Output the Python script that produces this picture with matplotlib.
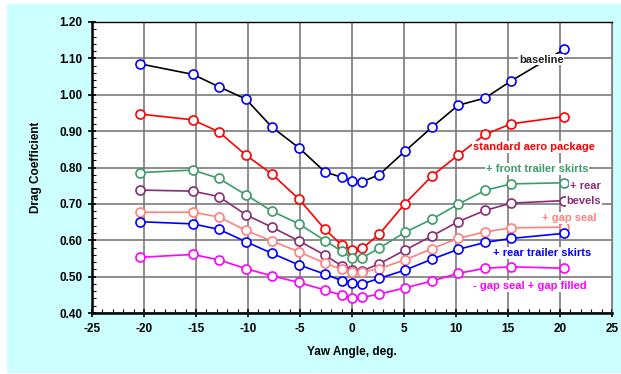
import matplotlib
matplotlib.use("Agg")
import matplotlib.pyplot as plt
from matplotlib.patches import Rectangle
from matplotlib.ticker import MultipleLocator, FormatStrFormatter

plt.rcParams['font.family'] = ['Liberation Sans', 'DejaVu Sans']
plt.rcParams['axes.unicode_minus'] = False

yaw = [-20.4, -15.3, -12.8, -10.2, -7.7, -5.1, -2.6, -1.0, 0.0, 1.0,
       2.6, 5.1, 7.7, 10.2, 12.8, 15.3, 20.4]

baseline = [1.085, 1.056, 1.022, 0.988, 0.911, 0.854, 0.788, 0.773, 0.764, 0.761,
            0.780, 0.845, 0.911, 0.971, 0.991, 1.038, 1.125]
aero = [0.947, 0.931, 0.898, 0.834, 0.782, 0.713, 0.630, 0.587, 0.573, 0.578,
        0.616, 0.701, 0.777, 0.834, 0.891, 0.920, 0.940]
front_skirts = [0.786, 0.793, 0.770, 0.725, 0.680, 0.645, 0.599, 0.570, 0.552, 0.552,
                0.578, 0.622, 0.658, 0.699, 0.737, 0.755, 0.758]
rear_bevels = [0.738, 0.735, 0.720, 0.670, 0.636, 0.598, 0.559, 0.530, 0.518, 0.516,
               0.535, 0.573, 0.612, 0.651, 0.682, 0.702, 0.709]
gap_seal = [0.677, 0.677, 0.664, 0.627, 0.598, 0.568, 0.537, 0.520, 0.514, 0.512,
            0.522, 0.546, 0.577, 0.605, 0.623, 0.634, 0.636]
rear_skirts = [0.651, 0.645, 0.630, 0.596, 0.564, 0.532, 0.507, 0.489, 0.483, 0.480,
               0.495, 0.518, 0.548, 0.575, 0.594, 0.605, 0.619]
gap_filled = [0.553, 0.561, 0.546, 0.522, 0.502, 0.484, 0.463, 0.449, 0.442, 0.443,
              0.452, 0.469, 0.488, 0.509, 0.523, 0.527, 0.523]

series = [
    (baseline, "black", "blue"),
    (aero, "#ff0000", "#ff0000"),
    (front_skirts, "#3c9c6a", "#3c9c6a"),
    (rear_bevels, "#882c78", "#882c78"),
    (gap_seal, "#ff8080", "#ff8080"),
    (rear_skirts, "#0000ff", "#0000ff"),
    (gap_filled, "#ff00ff", "#ff00ff"),
]

labels = [
    ("baseline", 18.2, 1.096, "#222222"),
    ("standard aero package", 17.5, 0.856, "#ff0000"),
    ("+ front trailer skirts", 17.8, 0.796, "#3c9c6a"),
    ("+ rear", 22.4, 0.749, "#882c78"),
    ("bevels", 22.3, 0.708, "#882c78"),
    ("+ gap seal", 20.9, 0.661, "#ff8080"),
    ("+ rear trailer skirts", 18.3, 0.565, "#0000ff"),
    ("- gap seal + gap filled", 17.1, 0.474, "#ff00ff"),
]

fig = plt.figure(figsize=(6.21, 3.74), dpi=100)
fig.patch.set_facecolor("white")
bg = Rectangle((7 / 621, 1 / 374), 1 - 7 / 621, 1 - 5 / 374,
               transform=fig.transFigure, facecolor="#ccffff",
               edgecolor="none", zorder=-10)
fig.patches.append(bg)

ax = fig.add_axes([92 / 621, 1 - 313 / 374, 520 / 621, 291 / 374])
ax.set_facecolor("white")

for vals, lc, mc in series:
    ax.plot(yaw, vals, color=lc, lw=1.2, marker="o", ms=6.5,
            mfc="white", mec=mc, mew=1.2, zorder=3)

for txt, x, y, c in labels:
    ax.text(x, y, txt, color=c, fontsize=8, fontweight="bold", ha="center",
            va="center", zorder=5,
            bbox=dict(facecolor="white", edgecolor="none", pad=0.5))

ax.set_xlim(-25, 25)
ax.set_ylim(0.40, 1.20)
ax.xaxis.set_major_locator(MultipleLocator(5))
ax.xaxis.set_minor_locator(MultipleLocator(1))
ax.yaxis.set_major_locator(MultipleLocator(0.1))
ax.yaxis.set_minor_locator(MultipleLocator(0.02))
ax.yaxis.set_major_formatter(FormatStrFormatter("%.2f"))
ax.grid(True, which="major", color="#7a7a7a", lw=1.2, zorder=1)
ax.set_axisbelow(True)

ax.tick_params(which="major", direction="inout", length=6, width=1.2,
               labelsize=8.5, pad=4)
ax.tick_params(which="minor", direction="in", length=3, width=0.8)
for lab in ax.get_xticklabels() + ax.get_yticklabels():
    lab.set_fontweight("bold")

for side in ["left", "bottom"]:
    ax.spines[side].set_linewidth(1.8)
ax.spines["top"].set_linewidth(1.0)
ax.spines["right"].set_color("#808080")

ax.set_xlabel("Yaw Angle, deg.", fontsize=8.5, fontweight="bold", labelpad=8)
ax.set_ylabel("Drag Coefficient", fontsize=8.5, fontweight="bold", labelpad=12)

fig.savefig("out.png", dpi=100)
